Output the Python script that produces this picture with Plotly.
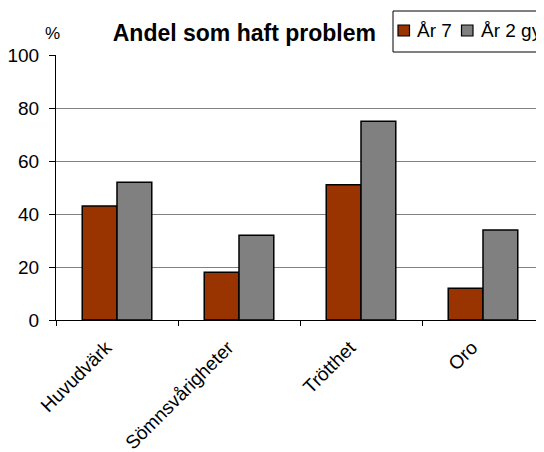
import plotly.graph_objects as go

categories = ["Huvudvärk", "Sömnsvårigheter", "Trötthet", "Oro"]
series_names = ["År 7", "År 2 gy"]
ar7 = [43, 18, 51, 12]
ar2gy = [52, 32, 75, 34]
colors = ["#993300", "#808080"]
y_ticks = [0, 20, 40, 60, 80, 100]

fig = go.Figure()
for name, vals, col in zip(series_names, [ar7, ar2gy], colors):
    fig.add_trace(go.Bar(
        x=categories, y=vals, name=name, showlegend=False,
        marker=dict(color=col, line=dict(color="black", width=1.5)),
    ))

# plot area in page pixels (page has 8px body margin)
PX0, PW, PY_BOTTOM, PH = 56, 488, 320, 265
def px(x):
    return (x - PX0) / PW
def py(y):
    return (PY_BOTTOM - y) / PH

font_family = "Liberation Sans, Arial, sans-serif"

shapes = [dict(type="rect", xref="paper", yref="paper",
               x0=px(393), x1=px(542), y0=py(52), y1=py(11),
               line=dict(color="black", width=1), fillcolor="white", layer="above")]
annotations = [dict(text="%", xref="paper", yref="paper", x=px(52), y=py(33),
                    xanchor="center", yanchor="middle", showarrow=False,
                    font=dict(size=17))]
legend_sq_x = [398, 461.5]
legend_tx_x = [415, 479]
for name, col, sx, tx in zip(series_names, colors, legend_sq_x, legend_tx_x):
    shapes.append(dict(type="rect", xref="paper", yref="paper",
                       x0=px(sx), x1=px(sx + 11.5), y0=py(36), y1=py(25),
                       line=dict(color="black", width=1.2), fillcolor=col, layer="above"))
    annotations.append(dict(text=name, xref="paper", yref="paper", x=px(tx), y=py(30),
                            xanchor="left", yanchor="middle", showarrow=False,
                            font=dict(size=19)))

fig.update_layout(
    width=536, height=444,
    margin=dict(l=48, r=0, t=47, b=132, autoexpand=False),
    paper_bgcolor="white", plot_bgcolor="white",
    barmode="group", bargap=0.43, bargroupgap=0,
    font=dict(family=font_family, color="black", size=19),
    title=dict(text="<b>Andel som haft problem</b>", x=0.441, xanchor="center",
               y=0.944, yanchor="middle", font=dict(size=23, family=font_family)),
    showlegend=False,
    xaxis=dict(showline=True, linecolor="black", linewidth=1,
               ticks="outside", ticklen=5, tickcolor="black", tickson="boundaries",
               tickangle=-45, tickfont=dict(size=19), automargin=False,
               ticklabelshift=-11, ticklabelstandoff=8),
    yaxis=dict(range=[0, 100], tickvals=y_ticks, showgrid=True, gridcolor="#808080",
               gridwidth=1.2, showline=True, linecolor="black", linewidth=1,
               ticks="outside", ticklen=6, tickcolor="black", ticklabelstandoff=6,
               tickfont=dict(size=19), zeroline=False, automargin=False),
    shapes=shapes,
    annotations=annotations,
)

fig.write_html("out.html")
